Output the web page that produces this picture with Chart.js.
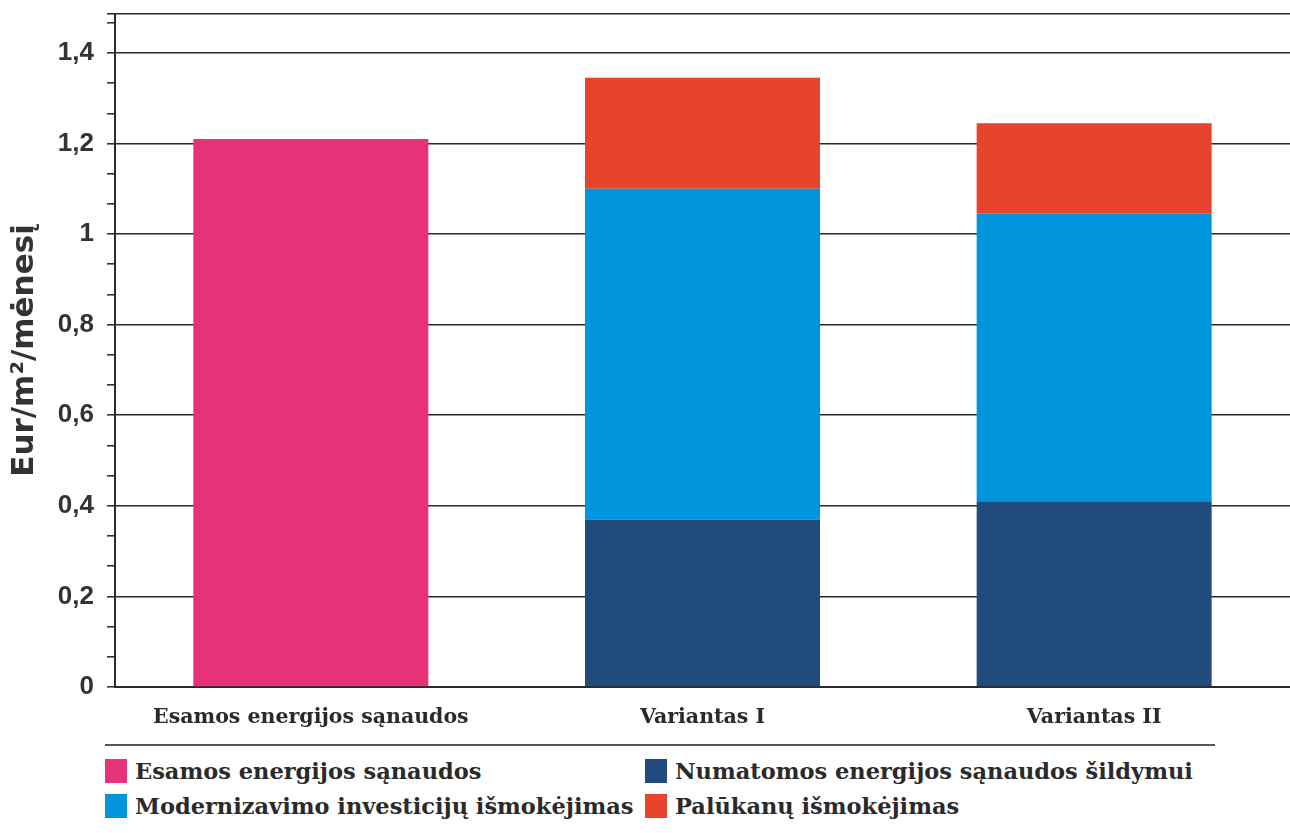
<!DOCTYPE html>
<html>
<head>
<meta charset="utf-8">
<script src="https://cdn.jsdelivr.net/npm/chart.js@4"></script>
<style>
    body { margin: 0; background: #fff; width: 1290px; height: 833px; overflow: hidden; position: relative; }
    #wrap { position: absolute; left: 0; top: 0; width: 1290px; height: 740px; }
    #legend {
        position: absolute; left: 105px; top: 744px; width: 1110px;
        border-top: 2px solid #555;
        display: grid; grid-template-columns: 540px 570px; row-gap: 8px;
        padding-top: 11px;
        font-family: 'DejaVu Serif', serif; font-size: 22.5px; font-weight: bold; color: #2a2a2a;
    }
    .item { display: flex; align-items: center; height: 27px; }
    .box { width: 22px; height: 24px; margin-right: 8px; flex: none; }
</style>
</head>
<body>
<div id="wrap"><canvas id="chart"></canvas></div>
<div id="legend"></div>
<script>
// kategorijos ir reikšmės (Eur/m²/mėn.)
const categories = ['Esamos energijos sąnaudos', 'Variantas I', 'Variantas II'];
const esamos = [1.21, null, null];
const numatomos = [null, 0.37, 0.41];
const modernizavimo = [null, 0.73, 0.635];
const palukanu = [null, 0.245, 0.2];

const yMajorTicks = [0, 0.2, 0.4, 0.6, 0.8, 1, 1.2, 1.4];
const yTickLabels = ['0', '0,2', '0,4', '0,6', '0,8', '1', '1,2', '1,4'];
const yMax = 1.486;

const isMajor = v => yMajorTicks.some(m => Math.abs(m - v) < 1e-6);

const chart = new Chart(document.getElementById('chart'), {
    type: 'bar',
    data: {
        labels: categories,
        datasets: [
            { label: 'Esamos energijos sąnaudos', data: esamos, backgroundColor: '#e7327a' },
            { label: 'Numatomos energijos sąnaudos šildymui', data: numatomos, backgroundColor: '#224b7d' },
            { label: 'Modernizavimo investicijų išmokėjimas', data: modernizavimo, backgroundColor: '#0095dc' },
            { label: 'Palūkanų išmokėjimas', data: palukanu, backgroundColor: '#e8442b' }
        ]
    },
    options: {
        responsive: true,
        maintainAspectRatio: false,
        animation: false,
        layout: { padding: { top: 14, right: 0, left: 0, bottom: 0 } },
        datasets: { bar: { barPercentage: 0.6, categoryPercentage: 1, skipNull: false } },
        plugins: { legend: { display: false }, tooltip: { enabled: false } },
        scales: {
            x: {
                stacked: true,
                grid: { display: false, drawTicks: false },
                border: { display: true, color: '#2a2a2a', width: 2 },
                ticks: {
                    color: '#2a2a2a', padding: 18,
                    font: { family: "'DejaVu Serif', serif", size: 20.5, weight: 'bold' }
                },
                afterFit: scale => { scale.height = 53; scale.paddingLeft = 0; scale.paddingRight = 0; }
            },
            y: {
                stacked: true,
                min: 0,
                max: yMax,
                afterBuildTicks: scale => {
                    const t = [];
                    for (let i = 0; i <= 22; i++) t.push({ value: i * 0.2 / 3 });
                    t.push({ value: yMax });
                    scale.ticks = t;
                },
                afterFit: scale => { scale.width = 115; scale.paddingTop = 0; scale.paddingBottom = 0; },
                grid: {
                    color: ctx => {
                        const v = ctx.tick ? ctx.tick.value : 0;
                        return (isMajor(v) || Math.abs(v - yMax) < 1e-6) ? '#2a2a2a' : 'rgba(0,0,0,0)';
                    },
                    tickColor: '#333',
                    lineWidth: 1.6,
                    tickLength: 8
                },
                border: { display: true, color: '#2a2a2a', width: 2 },
                ticks: {
                    autoSkip: false,
                    padding: 13,
                    color: '#333',
                    font: { family: "'Liberation Sans', Arial, sans-serif", size: 26, weight: 'bold' },
                    callback: value => {
                        const i = yMajorTicks.findIndex(m => Math.abs(m - value) < 1e-6);
                        return i >= 0 ? yTickLabels[i] : '';
                    }
                },
                title: {
                    display: true,
                    text: 'Eur/m²/mėnesį',
                    color: '#333',
                    font: { family: "'DejaVu Sans', sans-serif", size: 31, weight: 'bold' },
                    padding: { top: 6, bottom: 0 }
                }
            }
        }
    }
});

// legenda iš datasetų
const legend = document.getElementById('legend');
legend.innerHTML = chart.data.datasets.map(ds => `
    <div class="item"><span class="box" style="background:${ds.backgroundColor}"></span>${ds.label}</div>
`).join('');
</script>
</body>
</html>
